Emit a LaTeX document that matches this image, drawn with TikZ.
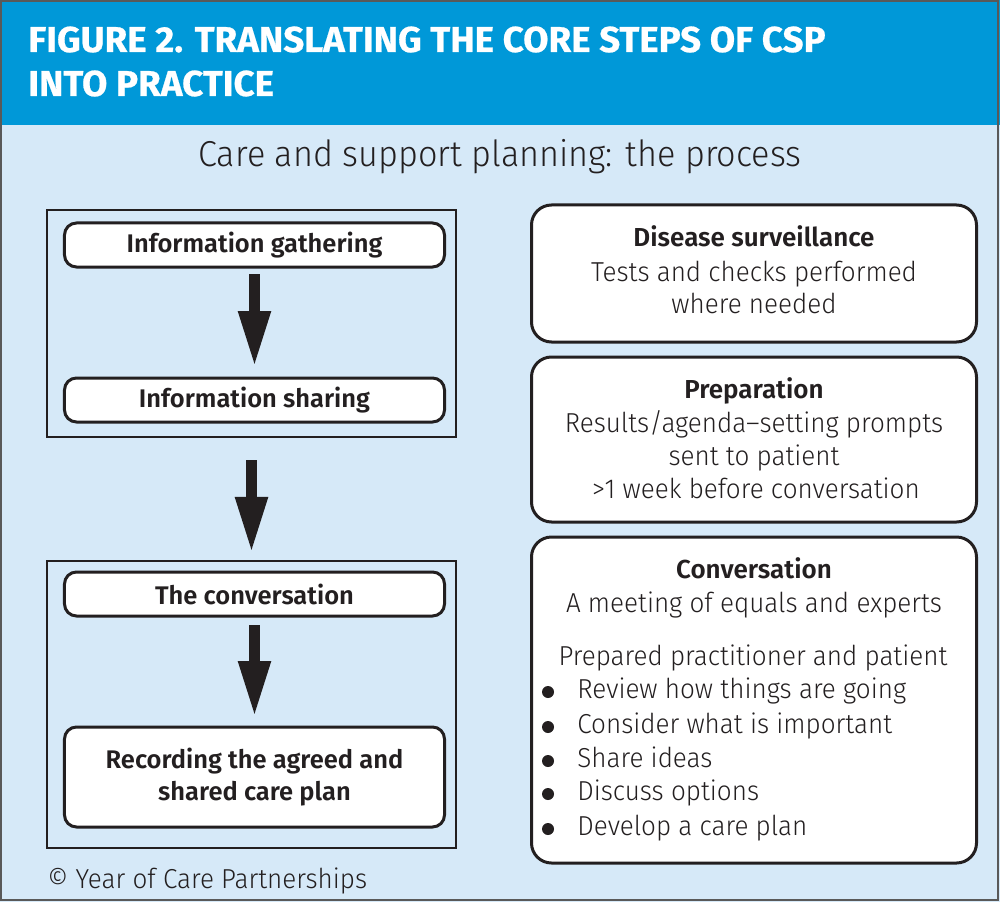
\documentclass[tikz,border=0pt]{standalone}
\usepackage{fontspec}
\setmainfont{Fira Sans}[UprightFont=* Light, BoldFont=* SemiBold,
  UprightFeatures={FakeStretch=0.95}]
\newfontfamily\titlefont{Fira Sans}[UprightFont=* Bold, FakeStretch=1.02, FakeBold=0.6]
\usetikzlibrary{arrows.meta}
\usetikzlibrary{positioning}

\definecolor{csphead}{RGB}{0,152,216}
\definecolor{cspback}{RGB}{214,233,248}
\definecolor{cspink}{RGB}{35,31,32}

\tikzset{
  title/.style={anchor=base west, inner sep=0pt, text=white,
    font=\titlefont\fontsize{20.5pt}{22pt}\selectfont},
  subtitle/.style={anchor=base, inner sep=0pt, text=cspink,
    font=\fontsize{20.5pt}{24pt}\selectfont},
  stepbox/.style={draw=cspink, fill=white, line width=0.6mm, rounded corners=2.4mm,
    minimum width=76mm, minimum height=8.8mm, inner sep=0pt, outer sep=0pt,
    align=center, text=cspink, font=\bfseries\fontsize{14.5pt}{18.7pt}\selectfont},
  groupbox/.style={draw=cspink, line width=0.4mm, minimum width=81.8mm,
    inner sep=0pt, outer sep=0pt},
  infobox/.style={draw=cspink, fill=white, line width=0.6mm, rounded corners=4mm,
    minimum width=89mm, inner sep=0pt, outer sep=0pt},
  boxhead/.style={anchor=base, inner sep=0pt, text=cspink,
    font=\bfseries\fontsize{14.8pt}{17pt}\selectfont},
  boxline/.style={anchor=base, inner sep=0pt, text=cspink,
    font=\fontsize{15.6pt}{18pt}\selectfont},
  bigarrow/.style={draw=cspink, line width=2.2mm, -{Triangle[length=11.2mm, width=6mm]}},
  dot/.style={circle, fill=cspink, minimum size=2.4mm, inner sep=0pt}
}

\begin{document}
\begin{tikzpicture}[x=0.2mm, y=-0.2mm]
  \useasboundingbox (0,0) rectangle (1000,902);
  \fill[cspback] (0,0) rectangle (1000,902);
  \fill[csphead] (0,0) rectangle (1000,125);
  \draw[gray!70!black, line width=0.4mm] (1,1) rectangle (998,900);

  % heading
  \node[title] (titleA) at (28,52) {FIGURE 2. TRANSLATING THE CORE STEPS OF CSP};
  \node[title] (titleB) at (28,96) {INTO PRACTICE};
  \node[subtitle] (process) at (500,167) {Care and support planning: the process};

  % left column
  \node[groupbox, minimum height=45.4mm] (phaseA) at (251.5,323.5) {};
  \node[groupbox, minimum height=57.4mm] (phaseB) at (251.5,704.5) {};
  \node[stepbox] (gather) at (254.5,245) {Information gathering};
  \node[stepbox, below=22.2mm of gather] (share) {Information sharing};
  \node[stepbox, below=30mm of share] (convo) {The conversation};
  \node[stepbox, minimum height=20mm, below=22.2mm of convo] (record)
    {Recording the agreed and\\shared care plan};

  \draw[bigarrow, shorten <=1.4mm, shorten >=2.2mm] (gather) -- (share);
  \draw[bigarrow, shorten <=4.6mm, shorten >=1.6mm] (phaseA) -- (phaseB);
  \draw[bigarrow, shorten <=1.8mm, shorten >=2mm] (convo) -- (record);

  % right column
  \node[infobox, minimum height=27.4mm] (surv) at (754,273.5) {};
  \node[infobox, minimum height=33mm, below=3mm of surv] (prep) {};
  \node[infobox, minimum height=65.2mm, below=3mm of prep] (talk) {};

  \node[boxhead] (survhead) at (754,247) {Disease surveillance};
  \node[boxline] (survA) at (754,281) {Tests and checks performed};
  \node[boxline] (survB) at (754,313) {where needed};

  \node[boxhead] (prephead) at (754,398) {Preparation};
  \node[boxline] (prepA) at (754,432) {Results/agenda–setting prompts};
  \node[boxline] (prepB) at (754,465) {sent to patient};
  \node[boxline] (prepC) at (756,498) {>1 week before conversation};

  \node[boxhead] (talkhead) at (754,578) {Conversation};
  \node[boxline] (talkA) at (754,612) {A meeting of equals and experts};
  \node[boxline] (talkB) at (753,665) {Prepared practitioner and patient};
  \foreach \yy/\item [count=\i] in {698/Review how things are going,
      733/Consider what is important, 767/Share ideas,
      800/Discuss options, 835/Develop a care plan}{
    \node[dot] (bullet\i) at (548,\yy-6) {};
    \node[boxline, anchor=base west] (point\i) at (577,\yy) {\item};
  }

  % credit
  \node[boxline, anchor=base west, font=\fontsize{15.6pt}{19pt}\selectfont]
    (credit) at (47,888) {© Year of Care Partnerships};
\end{tikzpicture}
\end{document}
